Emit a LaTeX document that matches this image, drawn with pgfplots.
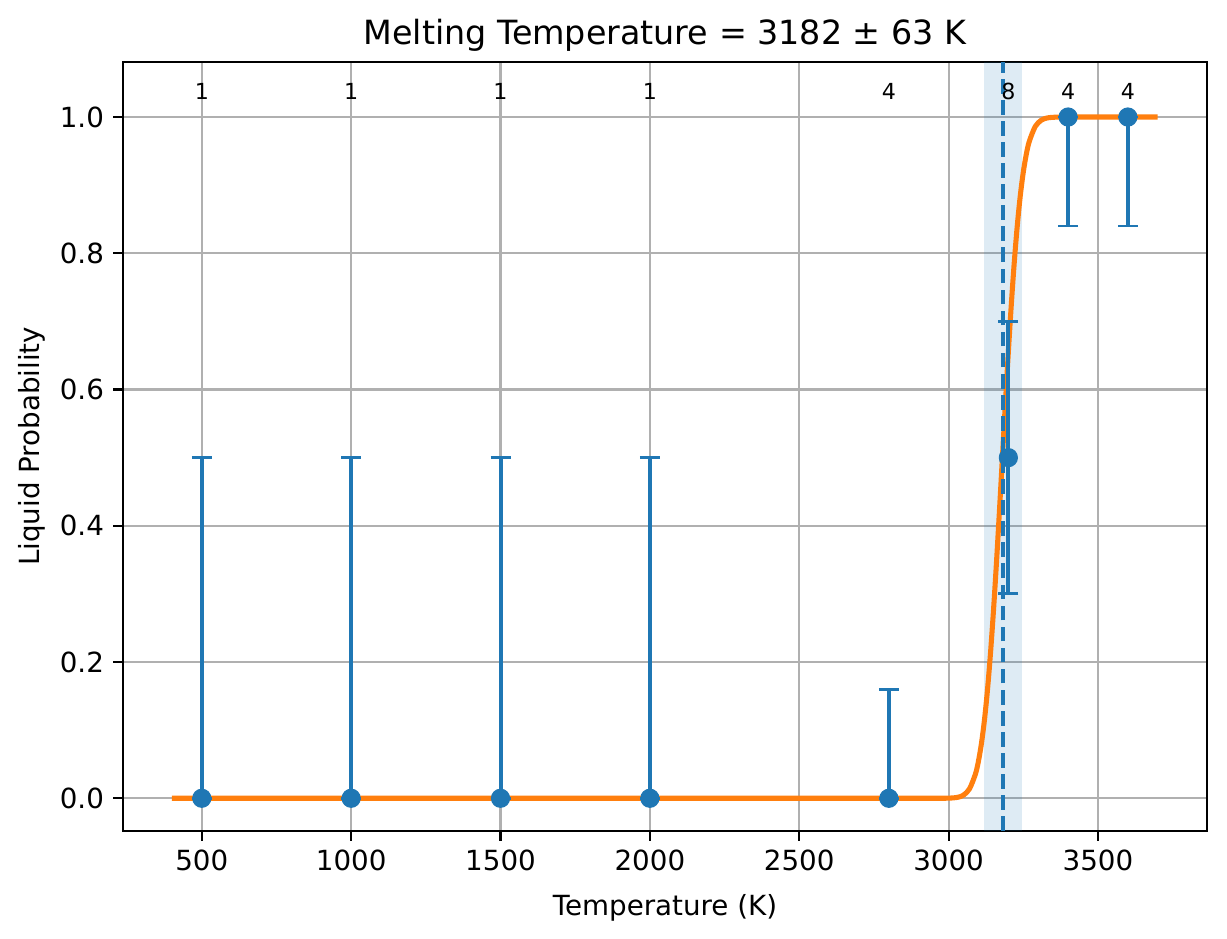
\documentclass[border=0pt]{standalone}
\usepackage{pgfplots}
\pgfplotsset{compat=1.18}
\usepackage{fontspec}
\setmainfont{DejaVu Sans}
\definecolor{C0}{HTML}{1F77B4}
\definecolor{C1}{HTML}{FF7F0E}
\definecolor{gridc}{HTML}{B0B0B0}
\begin{document}
\begin{tikzpicture}
\useasboundingbox (-46.1pt,-40.5pt) rectangle (414pt,311.6pt);
\begin{axis}[
  at={(0,0)}, anchor=south west,
  scale only axis, width=406.5pt, height=288.4pt,
  xmin=236, xmax=3865, ymin=-0.048, ymax=1.081,
  xtick={500,1000,1500,2000,2500,3000,3500},
  ytick={0,0.2,0.4,0.6,0.8,1.0},
  yticklabel style={/pgf/number format/.cd, fixed, fixed zerofill, precision=1},
  scaled x ticks=false,
  xticklabel style={/pgf/number format/.cd, set thousands separator={}},
  /pgf/number format/assume math mode=true,
  tick label style={font=\fontsize{10.4}{12}\selectfont},
  label style={font=\fontsize{10.4}{12}\selectfont},
  xlabel style={yshift=-1.8pt},
  ylabel style={yshift=-1.3pt},
  title style={font=\fontsize{12.5}{14}\selectfont, yshift=-5.5pt},
  title={Melting Temperature = 3182 ± 63 K},
  xlabel={Temperature (K)}, ylabel={Liquid Probability},
  grid=major, major grid style={gridc, line width=0.8pt},
  tick align=outside, major tick length=3.6pt,
  tick style={black, line width=0.8pt},
  axis line style={line width=0.8pt},
  xtick pos=bottom, ytick pos=left,
]
% uncertainty band
\addplot[fill=C0, fill opacity=0.15, draw=none] coordinates {(3119,-0.048) (3245,-0.048) (3245,1.081) (3119,1.081)} -- cycle;
% fitted curve
\addplot[C1, line width=1.9pt, smooth] coordinates {
(400,0) (1000,0) (2000,0) (2900,0) (2950,0.00002) (3000,0.00016) (3030,0.00135) (3050,0.0047)
(3070,0.0139) (3090,0.0359) (3100,0.0548) (3110,0.0808) (3120,0.1151)
(3130,0.1587) (3140,0.2119) (3150,0.2743) (3160,0.3446) (3170,0.4207)
(3180,0.5) (3190,0.5793) (3200,0.6554) (3210,0.7257) (3220,0.7881)
(3230,0.8413) (3240,0.8849) (3250,0.9192) (3260,0.9452) (3270,0.9641)
(3290,0.9861) (3310,0.9953) (3330,0.99865) (3360,0.99984) (3400,1) (3700,1)
};
% data with error bars
\addplot[C0, only marks, mark=*, mark size=3.4pt,
  error bars/.cd, y dir=both, y explicit,
  error bar style={C0, line width=1.5pt},
  error mark options={C0, line width=1.1pt, mark size=3.75pt, rotate=90}]
coordinates {
(500,0) += (0,0.5) -= (0,0)
(1000,0) += (0,0.5) -= (0,0)
(1500,0) += (0,0.5) -= (0,0)
(2000,0) += (0,0.5) -= (0,0)
(2800,0) += (0,0.16) -= (0,0)
(3200,0.5) += (0,0.2) -= (0,0.2)
(3400,1) += (0,0) -= (0,0.16)
(3600,1) += (0,0) -= (0,0.16)
};
% melting temperature
\addplot[C0, line width=1.5pt, dash pattern=on 5.5pt off 2.4pt] coordinates {(3182,-0.048) (3182,1.081)};
% counts
\addplot[only marks, mark=none, nodes near coords, point meta=explicit symbolic,
  every node near coord/.append style={anchor=center, font=\fontsize{8.3}{10}\selectfont, inner sep=0pt}]
coordinates {
(500,1.037)[1] (1000,1.037)[1] (1500,1.037)[1] (2000,1.037)[1]
(2800,1.037)[4] (3200,1.037)[8] (3400,1.037)[4] (3600,1.037)[4]
};
\end{axis}
\end{tikzpicture}
\end{document}
